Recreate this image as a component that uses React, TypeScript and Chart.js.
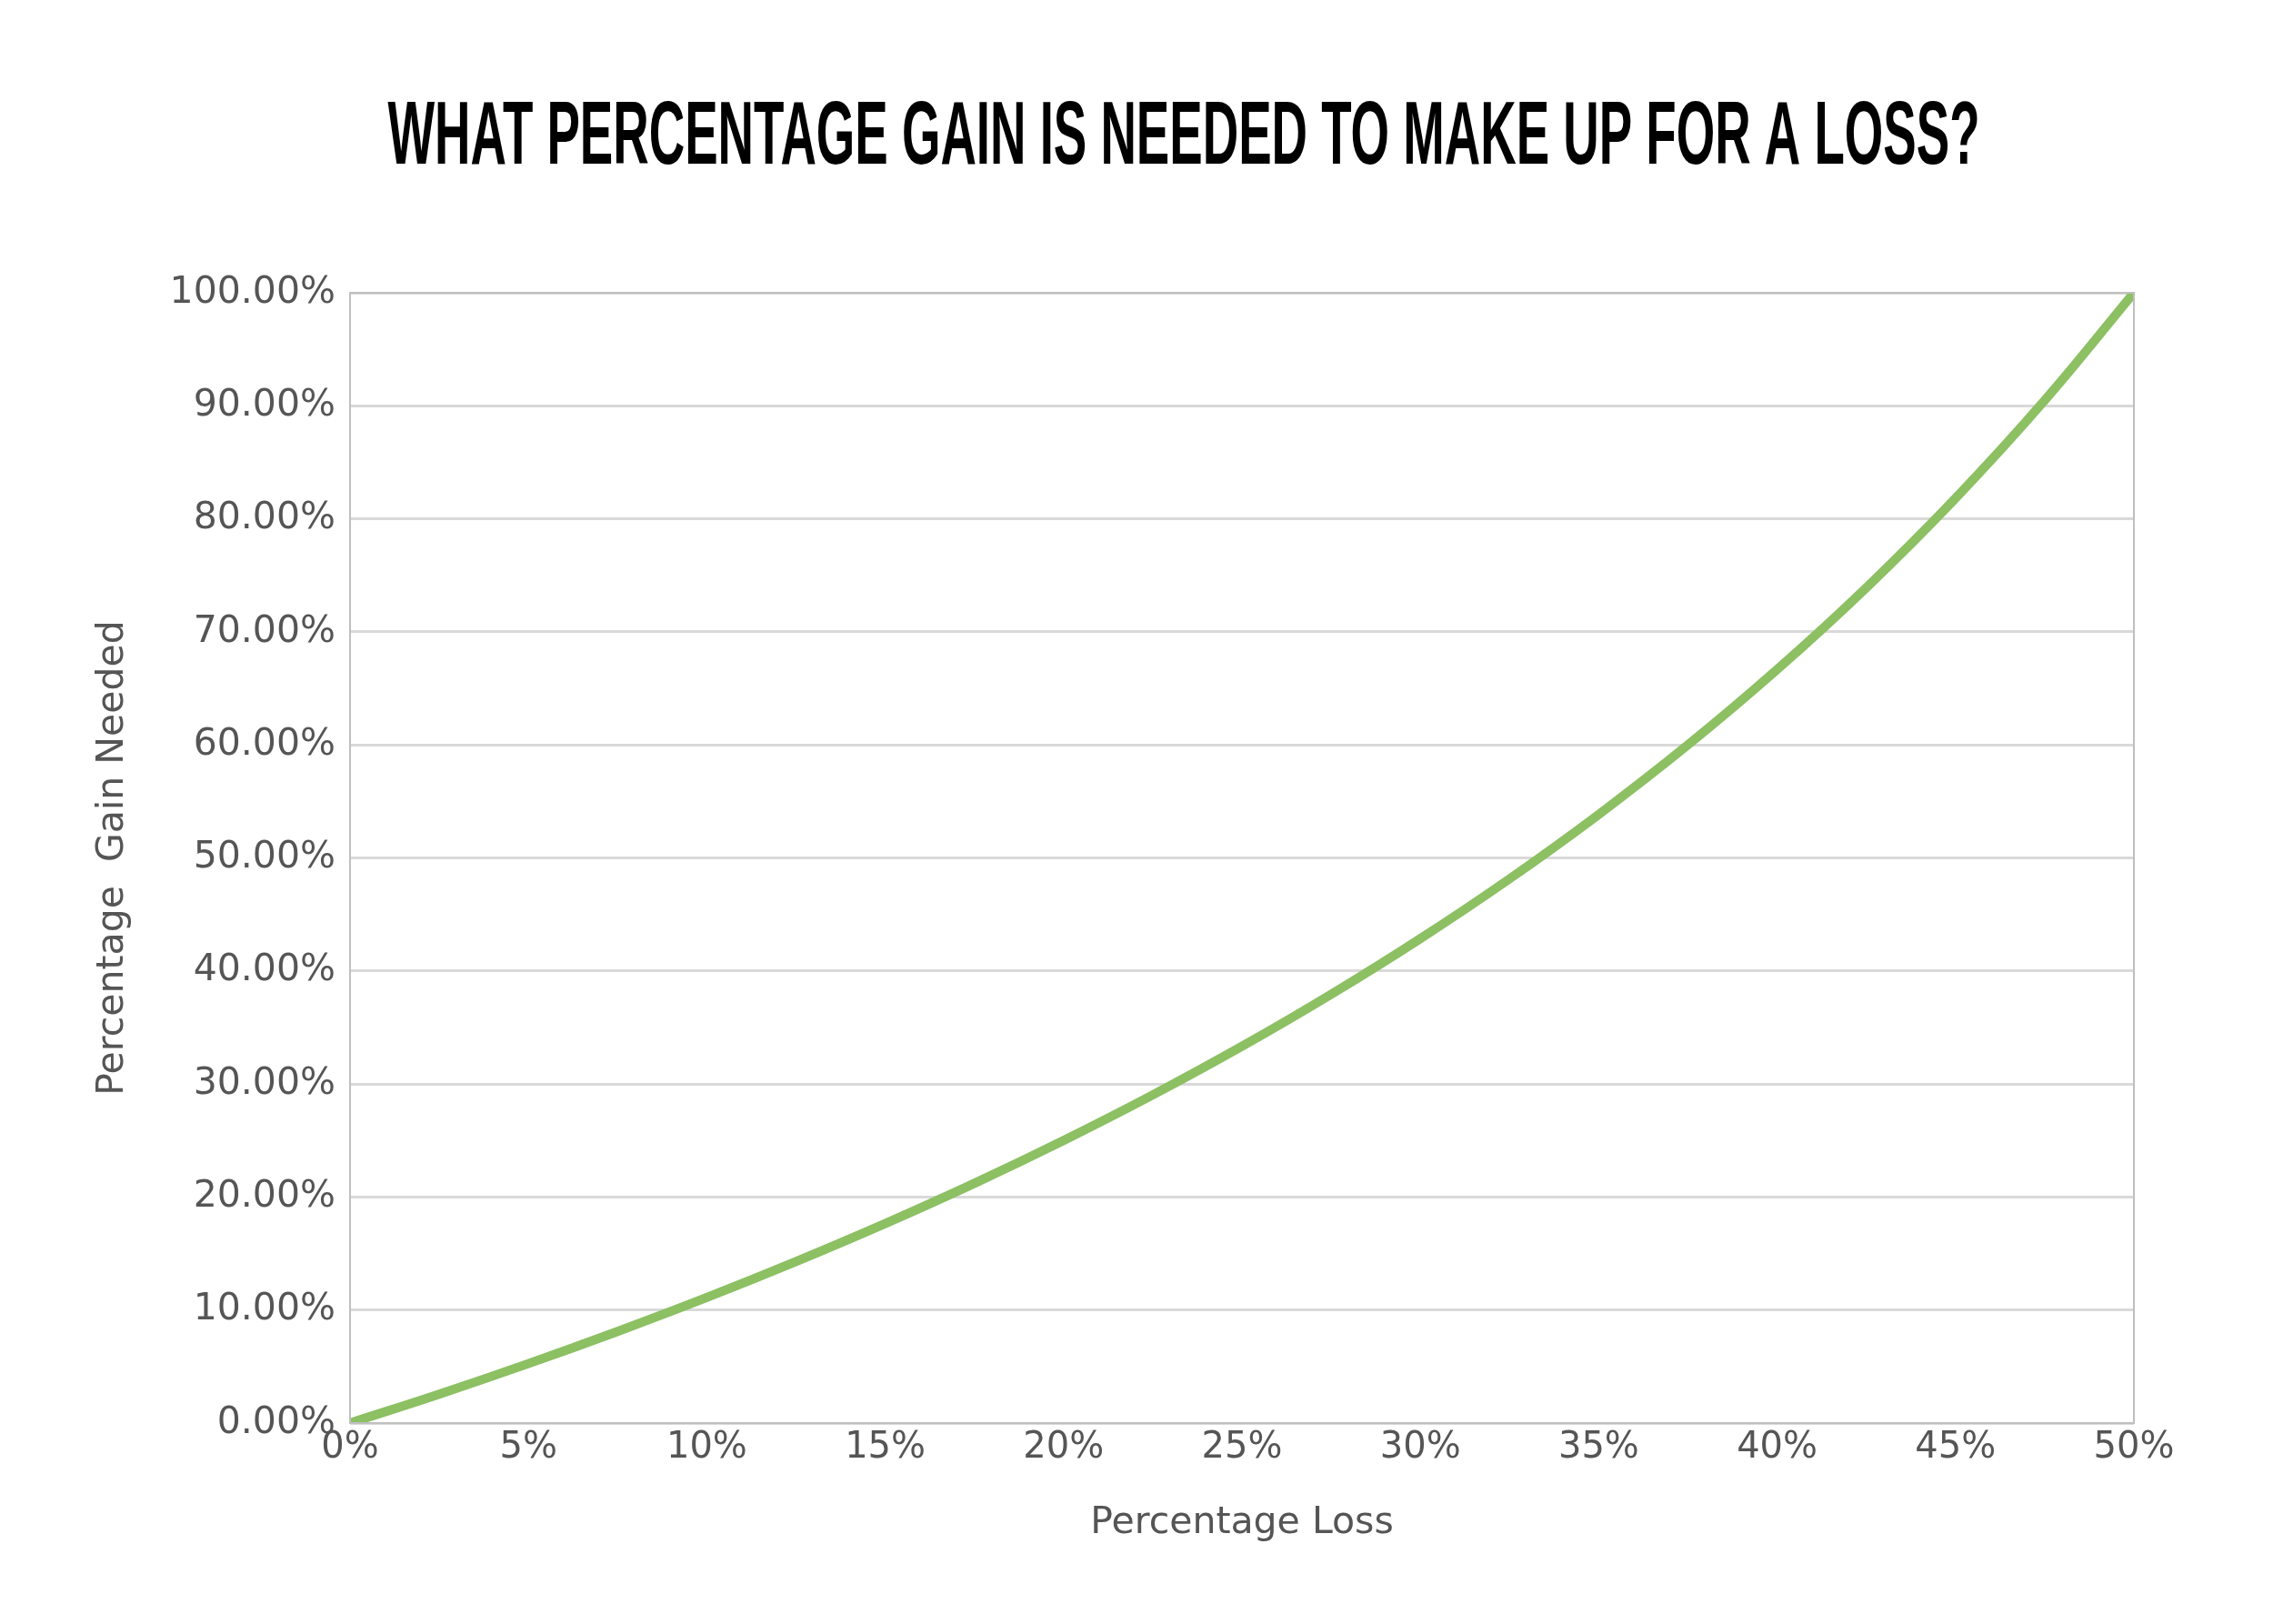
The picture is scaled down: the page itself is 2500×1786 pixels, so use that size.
import React, { useEffect, useRef } from "react";
import { Chart, registerables } from "chart.js";
Chart.register(...registerables);

const TITLE = "WHAT PERCENTAGE GAIN IS NEEDED TO MAKE UP FOR A LOSS?";
const lossPct = [0, 2.5, 5, 7.5, 10, 12.5, 15, 17.5, 20, 22.5, 25, 27.5, 30, 32.5, 35, 37.5, 40, 42.5, 45, 47.5, 50];
const gainPct = [0, 2.56, 5.26, 8.11, 11.11, 14.29, 17.65, 21.21, 25, 29.03, 33.33, 37.93, 42.86, 48.15, 53.85, 60, 66.67, 73.91, 81.82, 90.48, 100];

export default function App() {
  const ref = useRef<HTMLCanvasElement>(null);
  useEffect(() => {
    const titlePlugin = {
      id: "condTitle",
      afterDraw(c: any) {
        const ctx = c.ctx;
        ctx.save();
        ctx.font = "bold 98px 'Liberation Sans'";
        ctx.fillStyle = "#000";
        ctx.textBaseline = "middle";
        const w = ctx.measureText(TITLE).width;
        const target = 1751;
        ctx.translate(1302 - target / 2, 153);
        ctx.scale(target / w, 1);
        ctx.fillText(TITLE, 0, 0);
        ctx.restore();
        const a = c.chartArea;
        ctx.save();
        ctx.strokeStyle = "#bfbfbf";
        ctx.lineWidth = 2;
        ctx.strokeRect(a.left, a.top, a.right - a.left, a.bottom - a.top);
        ctx.restore();
      },
    };
    const chart = new Chart(ref.current!, {
      type: "line",
      data: {
        datasets: [{
          data: lossPct.map((x, i) => ({ x, y: gainPct[i] })),
          borderColor: "#8cc063",
          borderWidth: 10,
          pointRadius: 0,
          tension: 0.4,
          fill: false,
        }],
      },
      options: {
        animation: false,
        responsive: false,
        layout: { padding: { top: 322, right: 153, bottom: 86, left: 100 } },
        plugins: { legend: { display: false }, tooltip: { enabled: false } },
        scales: {
          x: {
            type: "linear", min: 0, max: 50,
            afterFit: (s: any) => { s.height = 135; },
            ticks: { stepSize: 5, callback: (v: any) => v + "%", color: "#555", font: { family: "DejaVu Sans", size: 40 }, padding: 4, maxRotation: 0 },
            grid: { display: false, drawTicks: false },
            border: { color: "#bfbfbf", width: 2 },
            title: { display: true, text: "Percentage Loss", color: "#555", font: { family: "DejaVu Sans", size: 41 }, padding: 0 },
          },
          y: {
            min: 0, max: 100,
            afterFit: (s: any) => { s.width = 285; },
            ticks: { stepSize: 10, callback: (v: any) => Number(v).toFixed(2) + "%", color: "#555", font: { family: "DejaVu Sans", size: 41 }, padding: 16 },
            grid: { color: "#d9d9d9", lineWidth: 3, drawTicks: false },
            border: { display: false },
            title: { display: true, text: "Percentage  Gain Needed", color: "#555", font: { family: "DejaVu Sans", size: 41 }, padding: 0 },
          },
        },
      },
      plugins: [titlePlugin],
    });
    return () => chart.destroy();
  }, []);
  return (
    <div style={{ position: "fixed", left: 0, top: 0, width: 2500, height: 1786, background: "#fff" }}>
      <canvas ref={ref} width={2500} height={1786} />
    </div>
  );
}
